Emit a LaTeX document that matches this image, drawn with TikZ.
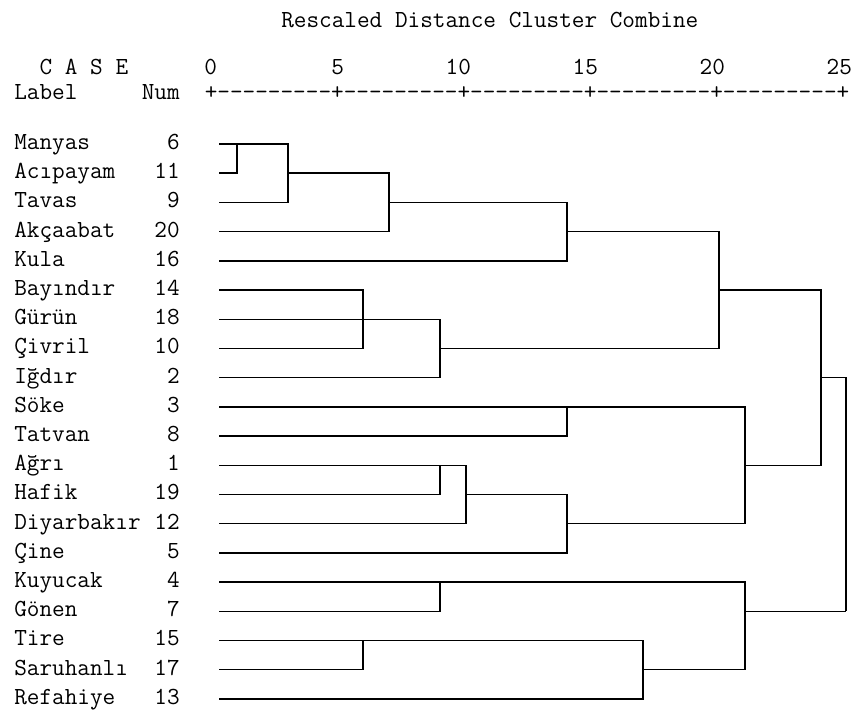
\documentclass[tikz,border=0pt]{standalone}
\usepackage{tikz}

\begin{document}
\begin{tikzpicture}[x=0.025cm, y=-0.025cm,
    spss/.style={font=\ttfamily\fontsize{17.45}{20}\selectfont, inner sep=0pt},
    branch/.style={line width=1pt}]
  \useasboundingbox (0,0) rectangle (853,710);

  % --- Header ---
  \node[spss, anchor=base west] (title) at (281,27) {Rescaled Distance Cluster Combine};
  \node[spss, anchor=base west] (casehead) at (39.4,74) {C A S E};
  \node[spss, anchor=base west] (labelhead) at (14,99) {Label};
  \node[spss, anchor=base east] (numhead) at (180,99) {Num};

  % Scale 0..25 and its ruler
  \foreach \t [count=\k from 0] in {0,5,...,25}
    \node[spss, anchor=base east] (tick\t) at ({217.2+127*\k},74) {\t};
  \node[spss, anchor=base west] (ruler) at (204.5,99) {+---------+---------+---------+---------+---------+};

  % --- Cases: label, number, start of the branch ---
  \foreach \city/\cid [count=\i from 0] in {Manyas/6, Acıpayam/11, Tavas/9,
      Akçaabat/20, Kula/16, Bayındır/14, Gürün/18, Çivril/10, Iğdır/2,
      Söke/3, Tatvan/8, Ağrı/1, Hafik/19, Diyarbakır/12, Çine/5,
      Kuyucak/4, Gönen/7, Tire/15, Saruhanlı/17, Refahiye/13} {
    \pgfmathsetmacro\rowy{144+29.2*\i}
    \node[spss, anchor=base west] (lab\cid) at (14,\rowy+5.5) {\city};
    \node[spss, anchor=base east] (num\cid) at (180,\rowy+5.5) {\cid};
    \coordinate (c\cid) at (219,\rowy);
  }

  % --- Merge points (x = rescaled distance, y = row of the joined line) ---
  \coordinate (j1) at (237,0 |- c6);
  \coordinate (j2) at (288,0 |- c11);
  \coordinate (j3) at (389,0 |- c9);
  \coordinate (j4) at (567,0 |- c20);
  \coordinate (j5) at (363,0 |- c18);
  \coordinate (j6) at (440,0 |- c10);
  \coordinate (j7) at (719,0 |- c14);
  \coordinate (j8) at (567,0 |- c3);
  \coordinate (j9) at (440,0 |- c1);
  \coordinate (j10) at (466,0 |- c19);
  \coordinate (j11) at (567,0 |- c12);
  \coordinate (j12) at (745,0 |- c1);
  \coordinate (j13) at (821,0 |- c2);
  \coordinate (j14) at (440,0 |- c4);
  \coordinate (j15) at (363,0 |- c15);
  \coordinate (j16) at (643,0 |- c17);
  \coordinate (j17) at (745,0 |- c7);
  \coordinate (root) at (846,0 |- c7);

  % --- Branches: child -| merge ---
  \foreach \a/\b in {c6/j1, c11/j1, j1/j2, c9/j2, j2/j3, c20/j3, j3/j4, c16/j4,
      c14/j5, c18/j5, c10/j5, j5/j6, c2/j6, j4/j7, j6/j7,
      c3/j8, c8/j8, c1/j9, c19/j9, j9/j10, c12/j10, j10/j11, c5/j11,
      j8/j12, j11/j12, j7/j13, j12/j13,
      c4/j14, c7/j14, c15/j15, c17/j15, j15/j16, c13/j16, j14/j17, j16/j17,
      j13/root, j17/root}
    \draw[branch] (\a) -| (\b);

\end{tikzpicture}
\end{document}
